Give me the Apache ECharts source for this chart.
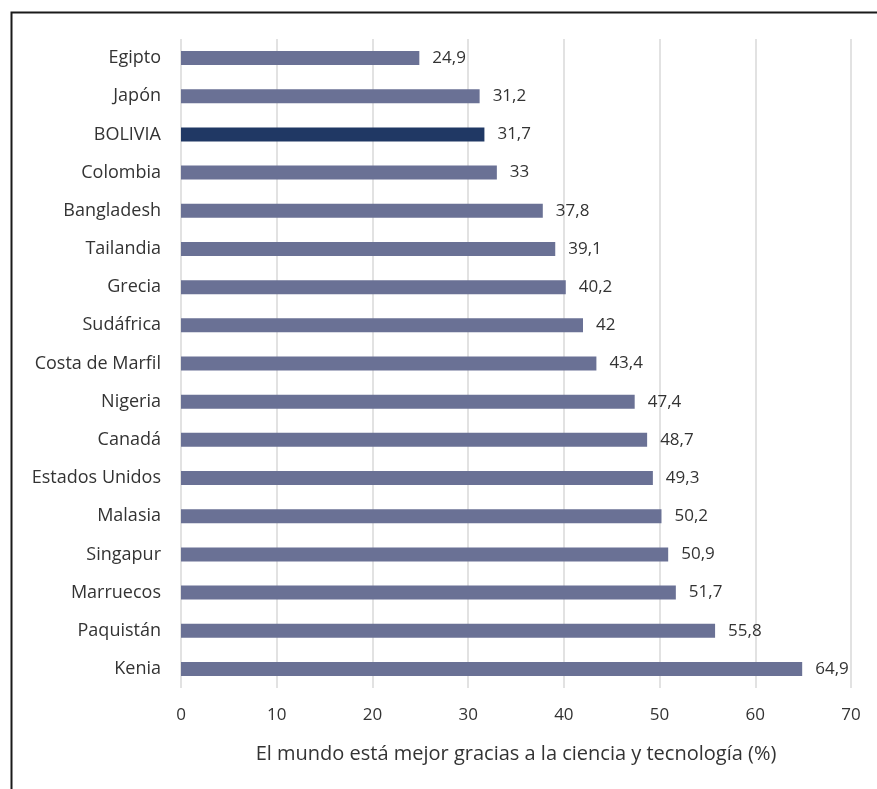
<!DOCTYPE html>
<html>
<head>
<meta charset="utf-8">
<script src="https://cdn.jsdelivr.net/npm/echarts@6/dist/echarts.min.js"></script>
<style>
  html, body { margin: 0; padding: 0; background: #fff; }
  #main { width: 877px; height: 789px; }
</style>
</head>
<body>
<div id="main"></div>
<script>
// datos
var paises = ['Egipto', 'Japón', 'BOLIVIA', 'Colombia', 'Bangladesh', 'Tailandia', 'Grecia',
  'Sudáfrica', 'Costa de Marfil', 'Nigeria', 'Canadá', 'Estados Unidos', 'Malasia',
  'Singapur', 'Marruecos', 'Paquistán', 'Kenia'];
var valores = [24.9, 31.2, 31.7, 33, 37.8, 39.1, 40.2, 42, 43.4, 47.4, 48.7, 49.3, 50.2,
  50.9, 51.7, 55.8, 64.9];
var destacado = 'BOLIVIA';

var fuente = '"Open Sans", sans-serif';
var myChart = echarts.init(document.getElementById('main'));
var option = {
  animation: false,
  graphic: [{
    type: 'rect',
    left: 9, top: 10,
    shape: { width: 900, height: 800 },
    style: { fill: 'none', stroke: '#1a1a1a', lineWidth: 2 }
  }],
  grid: { left: 181, right: 26, top: 39, bottom: 101 },
  xAxis: {
    type: 'value',
    min: 0, max: 70, interval: 10,
    name: 'El mundo está mejor gracias a la ciencia y tecnología (%)',
    nameLocation: 'middle',
    nameGap: 56,
    nameTextStyle: { fontFamily: fuente, fontSize: 20, color: '#333' },
    axisLine: { show: false },
    axisTick: { show: false },
    axisLabel: { fontFamily: fuente, fontSize: 17, color: '#333', margin: 19 },
    splitLine: { lineStyle: { color: '#d9d9d9', width: 1.5 } }
  },
  yAxis: {
    type: 'category',
    inverse: true,
    data: paises,
    axisLine: { show: false },
    axisTick: { show: false },
    axisLabel: { fontFamily: fuente, fontSize: 18, color: '#333', margin: 20 }
  },
  series: [{
    type: 'bar',
    barWidth: 14,
    data: valores.map(function (v, i) {
      return {
        value: v,
        itemStyle: { color: paises[i] === destacado ? '#203864' : '#6a7195' }
      };
    }),
    label: {
      show: true,
      position: 'right',
      distance: 13,
      fontFamily: fuente,
      fontSize: 17,
      color: '#333',
      formatter: function (p) { return String(p.value).replace('.', ','); }
    }
  }]
};
myChart.setOption(option);
</script>
</body>
</html>
